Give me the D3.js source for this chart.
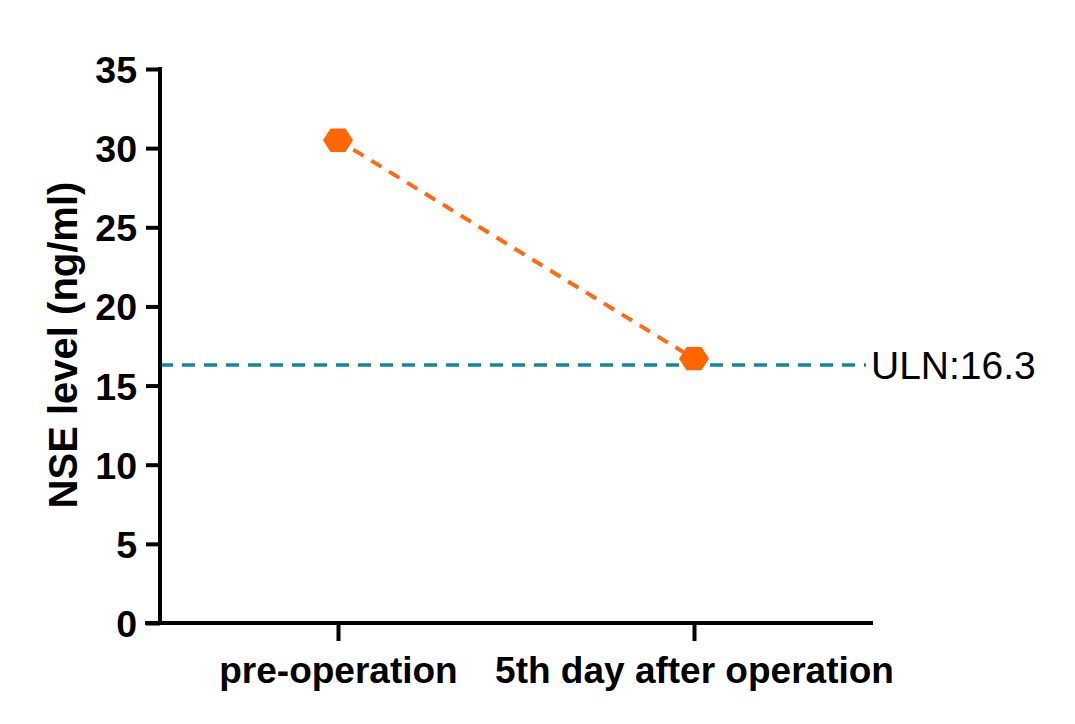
<!DOCTYPE html>
<html><head><meta charset="utf-8">
<script src="https://cdn.jsdelivr.net/npm/d3@7"></script>
<style>body{margin:0;background:#fff}svg{display:block}</style>
</head><body>
<svg id="c" width="1075" height="724"></svg>
<script>
const categories = ["pre-operation", "5th day after operation"];
const nseValues = [30.5, 16.7];
const ulnValue = 16.3;
const ulnLabel = "ULN:16.3";
const yTicks = [0, 5, 10, 15, 20, 25, 30, 35];
const yTitle = "NSE level (ng/ml)";

const svg = d3.select("#c");
const x0 = 160, x1 = 872, yTop = 69, yBot = 623;
const x = d3.scalePoint().domain(categories).range([x0, x1]).padding(0.5);
const y = d3.scaleLinear().domain([0, 35]).range([yBot, yTop]);
const font = "Arial, 'Liberation Sans', Helvetica, sans-serif";

// ULN line
svg.append("line").attr("x1", x0).attr("x2", 866)
  .attr("y1", y(ulnValue)).attr("y2", y(ulnValue))
  .attr("stroke", "#16879a").attr("stroke-width", 3.5).attr("stroke-dasharray", "13,9");
svg.append("text").attr("x", 871).attr("y", y(ulnValue) + 14)
  .attr("font-family", font).attr("font-size", 39).attr("fill", "#000").text(ulnLabel);

// Y axis
const yAxis = d3.axisLeft(y).tickValues(yTicks).tickSize(14).tickPadding(9).tickSizeOuter(0);
const gy = svg.append("g").attr("transform", `translate(${x0},0)`).call(yAxis);
gy.select(".domain").attr("stroke", "#000").attr("stroke-width", 4).attr("d", `M0,${yTop - 2}V${yBot}`);
gy.selectAll(".tick line").attr("stroke", "#000").attr("stroke-width", 4);
gy.selectAll(".tick text").attr("font-family", font).attr("font-size", 37.5).attr("font-weight", "bold").attr("fill", "#000").attr("dy", "0.36em");

// X axis
const xAxis = d3.axisBottom(x).tickSize(18).tickPadding(14).tickSizeOuter(0);
const gx = svg.append("g").attr("transform", `translate(0,${yBot})`).call(xAxis);
gx.select(".domain").attr("stroke", "#000").attr("stroke-width", 4).attr("d", `M${x0 - 15},0H${x1 + 1}`);
gx.selectAll(".tick line").attr("stroke", "#000").attr("stroke-width", 4);
gx.selectAll(".tick text").attr("font-family", font).attr("font-size", 37).attr("font-weight", "bold").attr("fill", "#000")
  .attr("y", 60).attr("dy", "0");

// Y title
svg.append("text").attr("transform", `translate(77,${(yTop + yBot) / 2 - 1}) rotate(-90)`)
  .attr("text-anchor", "middle").attr("font-family", font).attr("font-size", 40).attr("font-weight", "bold").text(yTitle);

// Data line
const data = categories.map((c, i) => ({c, v: nseValues[i]}));
svg.append("path").datum(data)
  .attr("d", d3.line().x(d => x(d.c)).y(d => y(d.v)))
  .attr("fill", "none").attr("stroke", "#ff6a13").attr("stroke-width", 4).attr("stroke-dasharray", "12,9")
  .attr("stroke-dashoffset", -18);

// Hexagon markers
const r = 15;
const hex = d3.range(6).map(k => [r * Math.cos(k * Math.PI / 3), r * 0.9 * Math.sin(k * Math.PI / 3)]);
svg.selectAll(".pt").data(data).enter().append("polygon")
  .attr("points", hex.map(p => p.join(",")).join(" "))
  .attr("transform", d => `translate(${x(d.c)},${y(d.v)})`)
  .attr("fill", "#ff6600");
</script>
</body></html>
